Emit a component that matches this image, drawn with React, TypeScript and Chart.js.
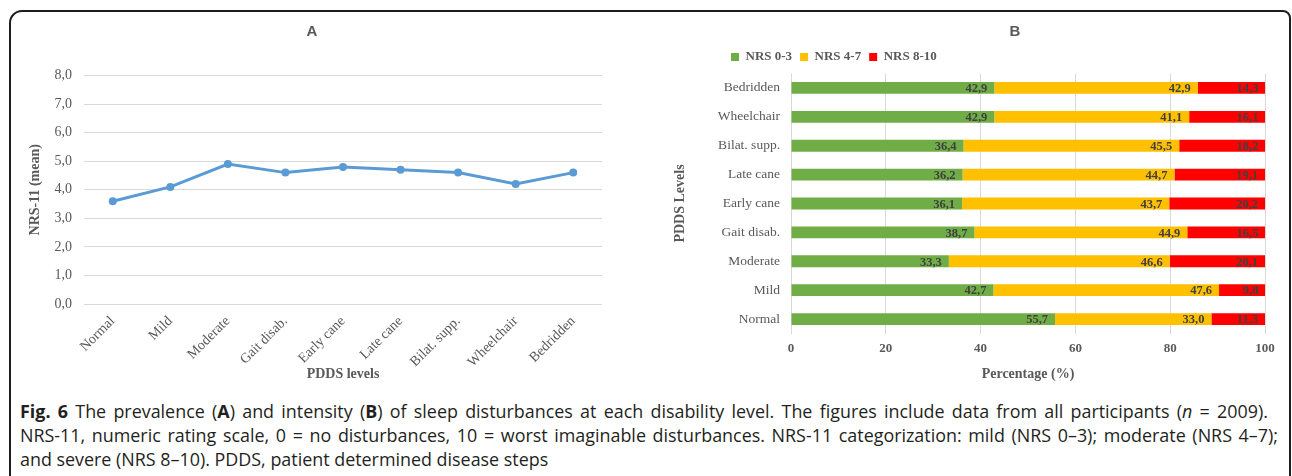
import React, { useEffect, useRef } from 'react';
import { Chart, registerables } from 'chart.js';

Chart.register(...registerables);

// PDDS disability levels, from least to most disabled
const pddsLevels = ['Normal', 'Mild', 'Moderate', 'Gait disab.', 'Early cane', 'Late cane', 'Bilat. supp.', 'Wheelchair', 'Bedridden'];

// Panel A: mean NRS-11 sleep disturbance score per level
const nrsMean = [3.6, 4.1, 4.9, 4.6, 4.8, 4.7, 4.6, 4.2, 4.6];

// Panel B: share of participants (%) in each NRS-11 category per level
const seriesLabels = ['NRS 0-3', 'NRS 4-7', 'NRS 8-10'];
const nrsMildPct = [55.7, 42.7, 33.3, 38.7, 36.1, 36.2, 36.4, 42.9, 42.9];
const nrsModeratePct = [33.0, 47.6, 46.6, 44.9, 43.7, 44.7, 45.5, 41.1, 42.9];
const nrsSeverePct = [11.3, 9.8, 20.1, 16.5, 20.2, 19.1, 18.2, 16.1, 14.3];

// Axis ranges
const meanAxis = { min: 0, max: 8, step: 1 };
const pctAxis = { min: 0, max: 100, step: 20 };

const SERIF = '"Liberation Serif", "Times New Roman", serif';
const SANS = '"Liberation Sans", Arial, sans-serif';
const GREY = '#595959';
const GRID = '#d9d9d9';
const BLUE = '#5b9bd5';
const SERIES_COLORS = ['#70ad47', '#ffc000', '#ff0000'];

const comma = (v: number) => v.toFixed(1).replace('.', ',');

// Moves the title and legend blocks to fixed horizontal positions after layout
const makeBlockPlacer = (titleCenter: number | null, legendLeft: number | null) => ({
  id: 'blockPlacer',
  afterLayout(chart: any) {
    const { legend, titleBlock } = chart;
    if (legend && legendLeft !== null) {
      const w = legend.width;
      legend.left = legendLeft;
      legend.right = legendLeft + w;
    }
    if (titleBlock && titleCenter !== null) {
      titleBlock.left = titleCenter - 60;
      titleBlock.right = titleCenter + 60;
    }
  },
});

// Writes each segment's value inside the right end of the bar
const barValueLabels = {
  id: 'barValueLabels',
  afterDatasetsDraw(chart: any) {
    const { ctx } = chart;
    ctx.save();
    ctx.font = `bold 12.5px ${SERIF}`;
    ctx.fillStyle = '#404040';
    ctx.textAlign = 'right';
    ctx.textBaseline = 'middle';
    chart.data.datasets.forEach((ds: any, i: number) => {
      const meta = chart.getDatasetMeta(i);
      meta.data.forEach((bar: any, j: number) => {
        const { x, y } = bar.getProps(['x', 'y'], true);
        ctx.fillText(comma(ds.data[j] as number), x - 7, y + 1);
      });
    });
    ctx.restore();
  },
};

function MeanChart() {
  const ref = useRef<HTMLCanvasElement>(null);
  useEffect(() => {
    if (!ref.current) return;
    const chart = new Chart(ref.current, {
      type: 'line',
      data: {
        labels: pddsLevels,
        datasets: [
          {
            data: nrsMean,
            borderColor: BLUE,
            backgroundColor: BLUE,
            borderWidth: 3,
            pointRadius: 4,
            pointBorderWidth: 0,
            pointBackgroundColor: BLUE,
            tension: 0,
          },
        ],
      },
      options: {
        animation: false,
        responsive: false,
        maintainAspectRatio: false,
        layout: { padding: { left: 0, right: 2, top: 0, bottom: 0 } },
        plugins: {
          legend: { display: false },
          tooltip: { enabled: false },
          title: {
            display: true,
            text: 'A',
            color: GREY,
            font: { family: SANS, size: 15, weight: 'bold' },
            padding: { top: 5, bottom: 34.5 },
          },
        },
        scales: {
          x: {
            type: 'category',
            offset: true,
            grid: { display: false, drawTicks: false },
            border: { display: false },
            ticks: {
              color: GREY,
              font: { family: SERIF, size: 14 },
              minRotation: 45,
              maxRotation: 45,
              padding: 9,
              autoSkip: false,
            },
            title: {
              display: true,
              text: 'PDDS levels',
              color: GREY,
              font: { family: SERIF, size: 14, weight: 'bold' },
              padding: { top: 0, bottom: 3 },
            },
            afterFit: (s: any) => {
              s.height = 82;
            },
          },
          y: {
            min: meanAxis.min,
            max: meanAxis.max,
            grid: { color: GRID, drawTicks: false },
            border: { display: false },
            ticks: {
              stepSize: meanAxis.step,
              color: GREY,
              font: { family: SERIF, size: 14 },
              padding: 12,
              callback: (v: any) => comma(Number(v)),
            },
            title: {
              display: true,
              text: 'NRS-11 (mean)',
              color: GREY,
              font: { family: SERIF, size: 14, weight: 'bold' },
              padding: { top: 7, bottom: 0 },
            },
            afterFit: (s: any) => {
              s.width = 64;
            },
          },
        },
      },
    } as any);
    return () => chart.destroy();
  }, []);
  return <canvas ref={ref} width={586} height={368} style={{ position: 'absolute', left: 20, top: 18 }} />;
}

function CategoryChart() {
  const ref = useRef<HTMLCanvasElement>(null);
  useEffect(() => {
    if (!ref.current) return;
    const series = [nrsMildPct, nrsModeratePct, nrsSeverePct];
    const chart = new Chart(ref.current, {
      type: 'bar',
      data: {
        labels: pddsLevels,
        datasets: series.map((values, i) => ({
          label: seriesLabels[i],
          data: values,
          backgroundColor: SERIES_COLORS[i],
          borderWidth: 0,
          barPercentage: 0.41,
          categoryPercentage: 1,
        })),
      },
      plugins: [makeBlockPlacer(360, 68), barValueLabels],
      options: {
        indexAxis: 'y',
        animation: false,
        responsive: false,
        maintainAspectRatio: false,
        layout: { padding: { left: 0, right: 20, top: 0, bottom: 0 } },
        plugins: {
          tooltip: { enabled: false },
          title: {
            display: true,
            text: 'B',
            color: GREY,
            font: { family: SANS, size: 15, weight: 'bold' },
            padding: { top: 5, bottom: 1.5 },
          },
          legend: {
            display: true,
            position: 'top',
            align: 'start',
            labels: {
              boxWidth: 8,
              boxHeight: 8,
              padding: 8,
              color: GREY,
              font: { family: SERIF, size: 13, weight: 'bold' },
            },
          },
        },
        scales: {
          x: {
            stacked: true,
            min: pctAxis.min,
            max: pctAxis.max,
            grid: { color: GRID, drawTicks: false },
            border: { display: false },
            ticks: {
              stepSize: pctAxis.step,
              color: GREY,
              font: { family: SERIF, size: 13, weight: 'bold' },
              padding: 7,
            },
            title: {
              display: true,
              text: 'Percentage (%)',
              color: GREY,
              font: { family: SERIF, size: 14, weight: 'bold' },
              padding: { top: 0, bottom: 3 },
            },
            afterFit: (s: any) => {
              s.height = 52.5;
            },
          },
          y: {
            stacked: true,
            reverse: true,
            grid: { display: false, drawTicks: false },
            border: { display: false },
            ticks: {
              color: GREY,
              font: { family: SERIF, size: 13.5 },
              padding: 11,
              autoSkip: false,
            },
            title: {
              display: true,
              text: 'PDDS Levels',
              color: GREY,
              font: { family: SERIF, size: 14, weight: 'bold' },
              padding: { top: 17, bottom: 0 },
            },
            afterFit: (s: any) => {
              s.width = 136;
            },
          },
        },
      },
    } as any);
    return () => chart.destroy();
  }, []);
  return <canvas ref={ref} width={630} height={368} style={{ position: 'absolute', left: 655, top: 18 }} />;
}

const captionLine = (width: number | null): React.CSSProperties =>
  width === null
    ? { whiteSpace: 'nowrap' }
    : { width, textAlign: 'justify', textAlignLast: 'justify', whiteSpace: 'normal' };

export default function App() {
  return (
    <div
      style={{
        position: 'fixed',
        left: 0,
        top: 0,
        width: 1292,
        height: 476,
        overflow: 'hidden',
        background: '#ffffff',
      }}
    >
      <div
        style={{
          position: 'absolute',
          left: 9,
          top: 10,
          width: 1282,
          height: 520,
          boxSizing: 'border-box',
          border: '2px solid #1e1e1e',
          borderRadius: '13px 8px 0 0',
        }}
      />
      <MeanChart />
      <CategoryChart />
      <div
        style={{
          position: 'absolute',
          left: 20,
          top: 399,
          fontFamily: '"Open Sans", sans-serif',
          fontSize: 17.9,
          lineHeight: '24px',
          color: '#231f20',
        }}
      >
        <div style={captionLine(1248)}>
          <b>Fig. 6</b> The prevalence (<b>A</b>) and intensity (<b>B</b>) of sleep disturbances at each disability level. The
          figures include data from all participants (<i>n</i> = 2009).
        </div>
        <div style={captionLine(1258)}>
          NRS-11, numeric rating scale, 0 = no disturbances, 10 = worst imaginable disturbances. NRS-11 categorization: mild
          (NRS 0–3); moderate (NRS 4–7);
        </div>
        <div style={captionLine(null)}>and severe (NRS 8–10). PDDS, patient determined disease steps</div>
      </div>
    </div>
  );
}
